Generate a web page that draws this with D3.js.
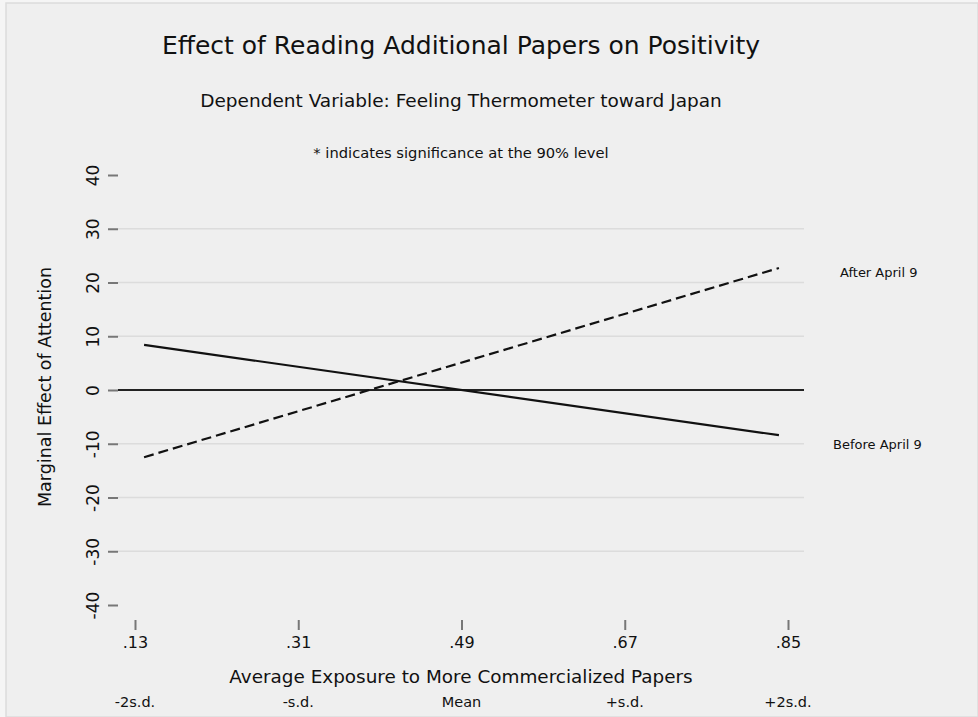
<!DOCTYPE html>
<html>
<head>
<meta charset="utf-8">
<script src="https://cdn.jsdelivr.net/npm/d3@7/dist/d3.min.js"></script>
<style>
  html, body { margin: 0; padding: 0; background: #f5f5f5; }
  svg { display: block; }
  text { font-family: "DejaVu Sans", "Noto Sans", sans-serif; fill: #111; }
</style>
</head>
<body>
<svg id="chart" width="978" height="717"></svg>
<script>
// Marginal effect of attention across exposure to commercialized papers
const exposureTicks = [0.13, 0.31, 0.49, 0.67, 0.85];
const exposureTickLabels = [".13", ".31", ".49", ".67", ".85"];
const sdLabels = ["-2s.d.", "-s.d.", "Mean", "+s.d.", "+2s.d."];
const yTicks = [-40, -30, -20, -10, 0, 10, 20, 30, 40];
const gridValues = [-30, -20, -10, 10, 20, 30];

const beforeX = [0.14, 0.84];
const beforeY = [8.4, -8.4];
const afterX = [0.14, 0.84];
const afterY = [-12.5, 22.7];

const svg = d3.select("#chart");
const W = 978, H = 717;

// panel background with thin frame
svg.append("rect").attr("x", 6).attr("y", 3).attr("width", W - 6).attr("height", H - 3)
  .attr("fill", "#efefef").attr("stroke", "#dcdcdc").attr("stroke-width", 1.5);

const x = d3.scaleLinear().domain([0.13, 0.85]).range([135, 788]);
const y = d3.scaleLinear().domain([-40, 40]).range([605, 175]);

const plotLeft = 118, plotRight = 804;

// gridlines
svg.append("g").selectAll("line").data(gridValues).join("line")
  .attr("x1", plotLeft).attr("x2", plotRight)
  .attr("y1", d => y(d)).attr("y2", d => y(d))
  .attr("stroke", "#dcdcdc").attr("stroke-width", 1.6);

// zero reference line
svg.append("line").attr("x1", plotLeft).attr("x2", plotRight)
  .attr("y1", y(0)).attr("y2", y(0))
  .attr("stroke", "#222").attr("stroke-width", 2);

// y axis (ticks only, rotated labels, plain hyphen for negatives)
const yAxis = d3.axisLeft(y).tickValues(yTicks).tickSize(10).tickPadding(9)
  .tickFormat(d => String(d));
const gy = svg.append("g").attr("transform", `translate(${plotLeft},0)`).call(yAxis);
gy.select(".domain").remove();
gy.selectAll(".tick line").attr("stroke", "#777").attr("stroke-width", 2);
gy.selectAll(".tick text")
  .attr("font-size", 17).attr("fill", "#111")
  .attr("transform", "rotate(-90)")
  .attr("x", 0).attr("y", -25)
  .attr("text-anchor", "middle").attr("dy", "0.35em");

// x axis
const xAxis = d3.axisBottom(x).tickValues(exposureTicks).tickSize(10).tickPadding(7)
  .tickFormat((d, i) => exposureTickLabels[i]);
const gx = svg.append("g").attr("transform", `translate(0,620)`).call(xAxis);
gx.select(".domain").remove();
gx.selectAll(".tick line").attr("stroke", "#777").attr("stroke-width", 2);
gx.selectAll(".tick text").attr("font-size", 16).attr("fill", "#111");

// standard-deviation markers under the axis title
svg.append("g").selectAll("text").data(exposureTicks).join("text")
  .attr("x", d => x(d)).attr("y", 707)
  .attr("text-anchor", "middle").attr("font-size", 14.5)
  .text((d, i) => sdLabels[i]);

// effect lines
const line = d3.line().x(d => x(d[0])).y(d => y(d[1]));
svg.append("path").datum(beforeX.map((v, i) => [v, beforeY[i]]))
  .attr("d", line).attr("fill", "none").attr("stroke", "#111").attr("stroke-width", 2.2);
svg.append("path").datum(afterX.map((v, i) => [v, afterY[i]]))
  .attr("d", line).attr("fill", "none").attr("stroke", "#111").attr("stroke-width", 2.2)
  .attr("stroke-dasharray", "10,5");

// line labels
svg.append("text").attr("x", 840).attr("y", y(afterY[1]) + 9)
  .attr("font-size", 13).text("After April 9");
svg.append("text").attr("x", 833).attr("y", y(beforeY[1]) + 14)
  .attr("font-size", 13).text("Before April 9");

// titles
svg.append("text").attr("x", 461).attr("y", 54).attr("text-anchor", "middle")
  .attr("font-size", 25).text("Effect of Reading Additional Papers on Positivity");
svg.append("text").attr("x", 461).attr("y", 107).attr("text-anchor", "middle")
  .attr("font-size", 18.5).text("Dependent Variable: Feeling Thermometer toward Japan");
svg.append("text").attr("x", 461).attr("y", 158).attr("text-anchor", "middle")
  .attr("font-size", 14.7).text("* indicates significance at the 90% level");

// axis titles
svg.append("text").attr("x", 461).attr("y", 683).attr("text-anchor", "middle")
  .attr("font-size", 18.4).text("Average Exposure to More Commercialized Papers");
svg.append("text").attr("transform", "translate(51,387) rotate(-90)")
  .attr("text-anchor", "middle").attr("font-size", 17.5)
  .text("Marginal Effect of Attention");
</script>
</body>
</html>
